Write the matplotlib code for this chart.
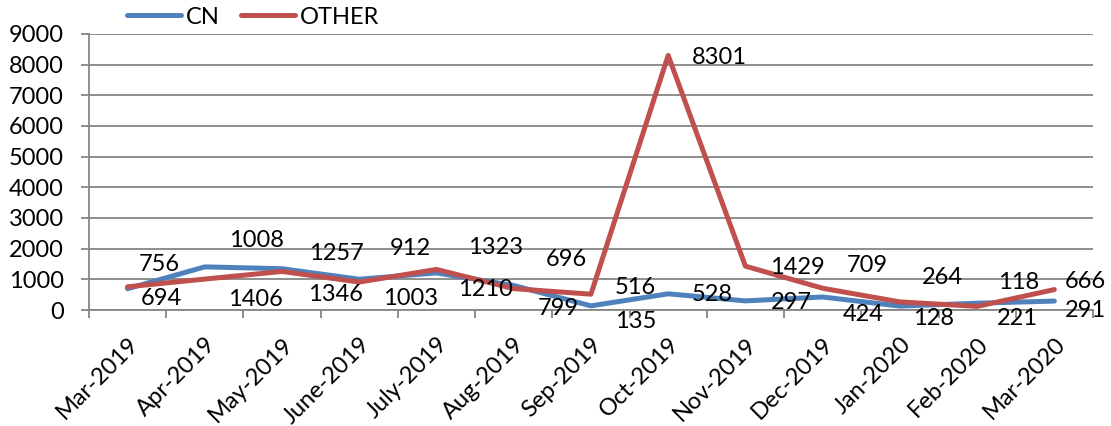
import numpy as np
import matplotlib
matplotlib.use("Agg")
import matplotlib.pyplot as plt

# data
months = ['Mar-2019', 'Apr-2019', 'May-2019', 'June-2019', 'July-2019', 'Aug-2019',
          'Sep-2019', 'Oct-2019', 'Nov-2019', 'Dec-2019', 'Jan-2020', 'Feb-2020', 'Mar-2020']
cn = [694, 1406, 1346, 1003, 1210, 799, 135, 528, 297, 424, 128, 221, 291]
other = [756, 1008, 1257, 912, 1323, 696, 516, 8301, 1429, 709, 264, 118, 666]

# label offsets in pixels (dx = left edge from point, dy = centre from point)
cn_dx = [13, 23, 26, 24, 22, 24, 24, 24, 25, 20, 13, 20, 10]
cn_dy = [-10, -33, -26, -19, -17, -23, -16, -1, -2, -18, -12, -15, -9]
other_dx = [11, 24, 27, 31, 32, 32, 24, 24, 25, 24, 22, 21, 10]
other_dy = [22, 39, 18, 34, 22, 29, 7, -2, -1, 23, 24, 24, 8]

plt.rcParams['font.family'] = ['Lato', 'DejaVu Sans']
FS = 17
BLUE = '#4F81BD'
RED = '#C0504D'
GREY = '#868686'

fig = plt.figure(figsize=(11.11, 4.26), dpi=100)
ax = fig.add_axes([0.080, 0.2723, 0.9838 - 0.080, 0.9202 - 0.2723])

x = np.arange(len(months))
l1, = ax.plot(x, cn, color=BLUE, lw=3.6, solid_capstyle='round', solid_joinstyle='round', label='CN', zorder=3)
l2, = ax.plot(x, other, color=RED, lw=3.6, solid_capstyle='round', solid_joinstyle='round', label='OTHER', zorder=4)

for i in range(len(months)):
    ax.annotate(str(cn[i]), xy=(x[i], cn[i]), xytext=(cn_dx[i], cn_dy[i]),
                textcoords='offset pixels', ha='left', va='center', fontsize=FS, zorder=5)
    ax.annotate(str(other[i]), xy=(x[i], other[i]), xytext=(other_dx[i], other_dy[i]),
                textcoords='offset pixels', ha='left', va='center', fontsize=FS, zorder=5)

ax.set_xlim(-0.5, len(months) - 0.5)
ax.set_ylim(0, 9000)
ax.set_yticks(range(0, 9001, 1000))
ax.yaxis.grid(True, color=GREY, lw=1.3)
ax.set_axisbelow(True)

ax.set_xticks(x)
ax.set_xticklabels(months, rotation=45, ha='right', rotation_mode='anchor', fontsize=FS)
ax.set_xticks(np.arange(-0.5, len(months)), minor=True)
ax.tick_params(axis='x', which='major', length=0, pad=17)
ax.tick_params(axis='x', which='minor', length=6, width=1.3, color=GREY, direction='out')
ax.tick_params(axis='y', length=6, width=1.3, color=GREY, pad=12, labelsize=FS)

for s in ['top', 'right']:
    ax.spines[s].set_visible(False)
for s in ['left', 'bottom']:
    ax.spines[s].set_color(GREY)
    ax.spines[s].set_linewidth(1.3)

fig.legend(handles=[l1, l2], loc='center left', bbox_to_anchor=(127 / 1111, 1 - 17 / 426),
           ncol=2, frameon=False, fontsize=FS, handlelength=2.3, handletextpad=0.2,
           columnspacing=0.9, borderpad=0, borderaxespad=0)

fig.savefig('out.png', dpi=100)
